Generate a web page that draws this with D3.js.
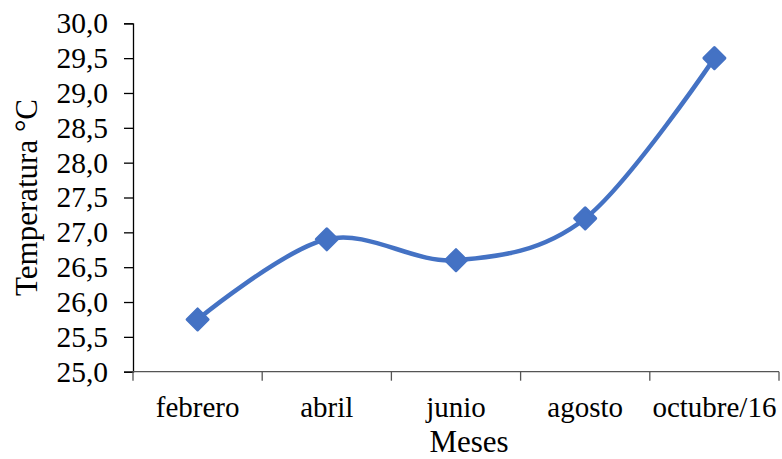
<!DOCTYPE html>
<html>
<head>
<meta charset="utf-8">
<script src="https://cdn.jsdelivr.net/npm/d3@7"></script>
<style>
  body { margin: 0; background: #fff; }
  svg text { font-family: "Liberation Serif", "DejaVu Serif", "Times New Roman", Times, serif; fill: #000; }
</style>
</head>
<body>
<svg id="chart" width="782" height="459"></svg>
<script>
'use strict';

const months = ['febrero', 'abril', 'junio', 'agosto', 'octubre/16'];
const temps = [25.75, 26.9, 26.6, 27.2, 29.5];
const yTicks = [25, 25.5, 26, 26.5, 27, 27.5, 28, 28.5, 29, 29.5, 30];

const plotLeft = 133;
const plotRight = 779;
const plotTop = 23.3;
const plotBottom = 371.7;
const blue = '#4472C4';
const serif = '"Liberation Serif", "DejaVu Serif", "Times New Roman", Times, serif';

const svg = d3.select('#chart');

const x = d3.scaleBand().domain(months).range([plotLeft, plotRight]);
const y = d3.scaleLinear().domain([25, 30]).range([plotBottom, plotTop]);

const fmt = (v) => d3.format('.1f')(v).replace('.', ',');

// y axis
const yAxis = svg
  .append('g')
  .attr('transform', `translate(${plotLeft},0)`)
  .call(d3.axisLeft(y).tickValues(yTicks).tickSize(9).tickPadding(16).tickFormat(fmt))
  .attr('font-family', serif)
  .attr('font-size', 29.5);
yAxis.select('.domain').attr('stroke', '#000').attr('stroke-width', 1.3);
yAxis.selectAll('.tick line').attr('stroke', '#000').attr('stroke-width', 1.3);
yAxis.selectAll('.tick text').attr('fill', '#000');

// x axis: ticks at band edges, labels at band centers
const xg = svg.append('g')
  .attr('transform', `translate(0,${plotBottom})`)
  .attr('font-family', serif)
  .attr('font-size', 29);
xg.append('line')
  .attr('x1', plotLeft).attr('x2', plotRight)
  .attr('stroke', '#555').attr('stroke-width', 1.3);
const edges = months.map((m) => x(m)).concat([plotRight]);
xg.selectAll('line.tk')
  .data(edges)
  .enter()
  .append('line')
  .attr('class', 'tk')
  .attr('x1', (d) => d).attr('x2', (d) => d)
  .attr('y1', 0).attr('y2', 9)
  .attr('stroke', '#555').attr('stroke-width', 1.3);
xg.selectAll('text')
  .data(months)
  .enter()
  .append('text')
  .attr('x', (d) => x(d) + x.bandwidth() / 2)
  .attr('y', 45)
  .attr('text-anchor', 'middle')
  .text((d) => d);

// axis titles
svg.append('text')
  .attr('x', 469)
  .attr('y', 452)
  .attr('text-anchor', 'middle')
  .attr('font-size', 31)
  .text('Meses');

svg.append('text')
  .attr('transform', `translate(37,${(plotTop + plotBottom) / 2}) rotate(-90)`)
  .attr('text-anchor', 'middle')
  .attr('font-size', 31)
  .text('Temperatura °C');

// smoothed line
const pts = months.map((m, i) => [x(m) + x.bandwidth() / 2, y(temps[i])]);
const line = d3.line().curve(d3.curveCardinal.tension(0));

svg.append('path')
  .attr('d', line(pts))
  .attr('fill', 'none')
  .attr('stroke', blue)
  .attr('stroke-width', 4.5)
  .attr('stroke-linecap', 'round');

// diamond markers
const s = 10.5;
svg.selectAll('path.mk')
  .data(pts)
  .enter()
  .append('path')
  .attr('class', 'mk')
  .attr('d', (d) => `M${d[0]},${d[1] - s}L${d[0] + s},${d[1]}L${d[0]},${d[1] + s}L${d[0] - s},${d[1]}Z`)
  .attr('fill', blue)
  .attr('stroke', blue)
  .attr('stroke-width', 3)
  .attr('stroke-linejoin', 'round');
</script>
</body>
</html>
